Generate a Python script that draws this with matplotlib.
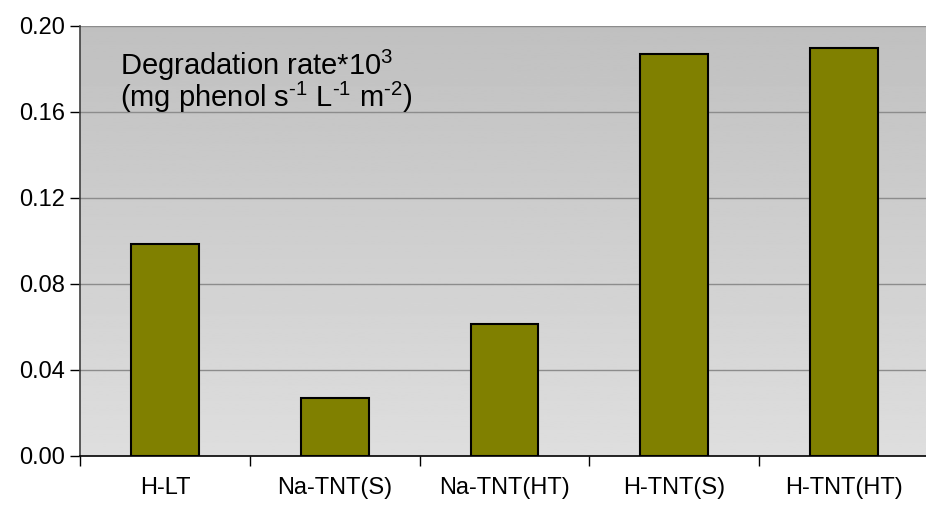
import numpy as np
import matplotlib
matplotlib.use("Agg")
import matplotlib.pyplot as plt

plt.rcParams["font.family"] = ["Liberation Sans", "DejaVu Sans"]
plt.rcParams["mathtext.fontset"] = "custom"
plt.rcParams["mathtext.rm"] = "Liberation Sans"
plt.rcParams["mathtext.it"] = "Liberation Sans:italic"

categories = ["H-LT", "Na-TNT(S)", "Na-TNT(HT)", "H-TNT(S)", "H-TNT(HT)"]
rates = [0.0986, 0.0270, 0.0614, 0.1870, 0.1898]
yticks = [0.00, 0.04, 0.08, 0.12, 0.16, 0.20]

W, H = 926, 509
fig = plt.figure(figsize=(W / 100, H / 100), dpi=100)
ax = fig.add_axes([80 / W, (H - 456) / H, 849 / W, 430 / H])

x = np.arange(len(categories))
ax.set_xlim(-0.5, len(categories) - 0.5)
ax.set_ylim(0, 0.20)

# gradient background, darker at the top
grad = np.linspace(222, 192, 256).reshape(-1, 1) / 255.0
ax.imshow(grad, cmap="gray", vmin=0, vmax=1, aspect="auto", origin="lower",
          extent=(-0.5, len(categories) - 0.5, 0, 0.20), zorder=0)

for t in yticks[1:]:
    ax.axhline(t, color="#8c8c8c", lw=1, zorder=1)

ax.bar(x, rates, width=0.4, color="#808000", edgecolor="black", lw=1.5, zorder=2)

ax.set_yticks(yticks)
ax.set_yticklabels([f"{v:.2f}" for v in yticks])
ax.set_xticks(x)
ax.set_xticklabels(categories)
ax.set_xticks(np.arange(len(categories) + 1) - 0.5, minor=True)
ax.tick_params(axis="x", which="major", length=0, pad=15, labelsize=17)
ax.tick_params(axis="x", which="minor", length=7, width=1, direction="out", color="black")
ax.tick_params(axis="y", length=7, width=1, direction="out", pad=4, labelsize=17)

for s in ["top", "right"]:
    ax.spines[s].set_visible(False)
ax.spines["left"].set_color("#404040")
ax.spines["left"].set_linewidth(1.2)
ax.spines["bottom"].set_color("black")
ax.spines["bottom"].set_linewidth(1.2)

fig.text(120 / W, (H - 75) / H, r"Degradation rate*10$^{3}$", fontsize=21, va="baseline")
fig.text(120 / W, (H - 107) / H,
         r"(mg phenol s$^{\text{-1}}$ L$^{\text{-1}}$ m$^{\text{-2}}$)",
         fontsize=21, va="baseline")

fig.savefig("out.png", dpi=100)
